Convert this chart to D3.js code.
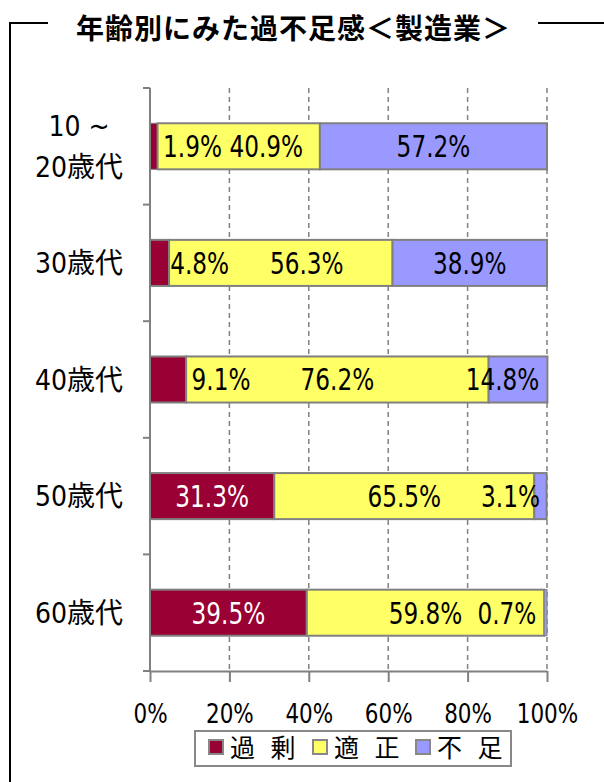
<!DOCTYPE html>
<html>
<head>
<meta charset="utf-8">
<title>年齢別にみた過不足感</title>
<script src="https://cdnjs.cloudflare.com/ajax/libs/d3/7.8.5/d3.min.js"></script>
<style>
  html, body { margin: 0; padding: 0; background: #fff; }
  svg { display: block; }
  .num { font-family: "DejaVu Sans Condensed", "Noto Sans CJK JP", sans-serif; }
</style>
</head>
<body>
<div id="chart"></div>
<script>
// data
const ages = ["10～20歳代", "30歳代", "40歳代", "50歳代", "60歳代"];
const ageLines = [["10 ~", "20歳代"], ["30歳代"], ["40歳代"], ["50歳代"], ["60歳代"]];
const seriesNames = ["過 剰", "適 正", "不 足"];
const kajo = [1.9, 4.8, 9.1, 31.3, 39.5];
const tekisei = [40.9, 56.3, 76.2, 65.5, 59.8];
const fusoku = [57.2, 38.9, 14.8, 3.1, 0.7];
const xTicks = [0, 20, 40, 60, 80, 100];
// where the label was dragged by hand (in % units), null = centred
const labelAt = [
  [10.7, 29.3, null],
  [12.5, 39.5, null],
  [17.9, null, 88.8],
  [null, null, 90.8],
  [null, null, 89.9]
];

const colors = ["#990033", "#ffff66", "#9999ff"];

const width = 604, height = 782;
const svg = d3.select("#chart").append("svg")
  .attr("width", width).attr("height", height);

const x = d3.scaleLinear().domain([0, 100]).range([150, 547]);
const y = d3.scaleBand().domain(ages).range([88, 671])
  .paddingInner(0.605).paddingOuter(0.3025);

// frame + title
svg.append("path")
  .attr("d", "M48,23H10V782M538,23H604")
  .attr("fill", "none").attr("stroke", "#000").attr("stroke-width", 2);
svg.append("text")
  .attr("x", 76).attr("y", 39)
  .attr("font-family", "'Noto Sans CJK JP', sans-serif")
  .attr("font-weight", "bold").attr("font-size", 28)
  .attr("textLength", 434).attr("lengthAdjust", "spacing")
  .text("年齢別にみた過不足感＜製造業＞");

// grid lines
svg.append("g").selectAll("line")
  .data(xTicks.slice(1))
  .join("line")
  .attr("x1", d => x(d)).attr("x2", d => x(d))
  .attr("y1", 88).attr("y2", 671)
  .attr("stroke", "#808080").attr("stroke-width", 1.5)
  .attr("stroke-dasharray", "5,4");

// stacked bars
const stack = ages.map((a, i) => {
  const vals = [kajo[i], tekisei[i], fusoku[i]];
  let acc = 0;
  return vals.map((v, j) => {
    const seg = { age: a, row: i, s: j, v: v, x0: acc, x1: acc + v };
    acc += v;
    return seg;
  });
}).flat();

svg.append("g").selectAll("rect")
  .data(stack)
  .join("rect")
  .attr("x", d => x(d.x0))
  .attr("y", d => y(d.age))
  .attr("width", d => x(d.x1) - x(d.x0))
  .attr("height", y.bandwidth())
  .attr("fill", d => colors[d.s])
  .attr("stroke", "#808080").attr("stroke-width", d => d.v < 2 ? 1 : 2);

svg.append("g").selectAll("text")
  .data(stack)
  .join("text")
  .attr("class", "num")
  .attr("transform", d => {
    const p = labelAt[d.row][d.s];
    const cx = x(p == null ? (d.x0 + d.x1) / 2 : p);
    const cy = y(d.age) + y.bandwidth() / 2;
    return `translate(${cx},${cy}) scale(0.86,1)`;
  })
  .attr("dy", "0.36em")
  .attr("text-anchor", "middle")
  .attr("font-size", 30)
  .attr("fill", d => (d.s === 0 && labelAt[d.row][0] == null) ? "#fff" : "#000")
  .text(d => d.v.toFixed(1) + "%");

// y axis with ticks at band edges
const edges = d3.range(ages.length + 1).map(i => y.range()[0] + i * y.step());
const yAxis = svg.append("g");
yAxis.append("line")
  .attr("x1", 150).attr("x2", 150).attr("y1", 88).attr("y2", 671)
  .attr("stroke", "#808080").attr("stroke-width", 2);
yAxis.selectAll(".tk").data(edges).join("line")
  .attr("x1", 143).attr("x2", 150)
  .attr("y1", d => d).attr("y2", d => d)
  .attr("stroke", "#808080").attr("stroke-width", 2);

const cat = svg.append("g").selectAll("text")
  .data(ages)
  .join("text")
  .attr("class", "num")
  .attr("font-size", 28)
  .attr("text-anchor", "middle")
  .attr("fill", "#000");
cat.each(function(d, i) {
  const lines = ageLines[i];
  const cy = y(d) + y.bandwidth() / 2;
  const lh = 41;
  d3.select(this).selectAll("tspan").data(lines).join("tspan")
    .attr("x", 79)
    .attr("y", (l, k) => cy + (k - (lines.length - 1) / 2) * lh)
    .attr("dy", "0.36em")
    .text(l => l);
});

// x axis
const xAxis = svg.append("g")
  .attr("transform", "translate(0,671)")
  .call(d3.axisBottom(x).tickValues(xTicks).tickSize(11).tickSizeOuter(0)
    .tickPadding(23).tickFormat(d => d + "%"));
xAxis.select(".domain").attr("stroke", "#808080").attr("stroke-width", 2);
xAxis.selectAll(".tick line").attr("stroke", "#808080").attr("stroke-width", 2);
xAxis.selectAll(".tick text")
  .attr("class", "num")
  .attr("font-family", null)
  .attr("font-size", 26).attr("fill", "#000")
  .attr("transform", "scale(0.92,1)");

// legend
const lg = svg.append("g");
lg.append("rect")
  .attr("x", 195).attr("y", 731).attr("width", 316).attr("height", 35)
  .attr("fill", "#fff").attr("stroke", "#888").attr("stroke-width", 2);
const itemX = [209, 313, 416];
seriesNames.forEach((n, i) => {
  lg.append("rect")
    .attr("x", itemX[i]).attr("y", 740).attr("width", 14).attr("height", 14)
    .attr("fill", colors[i]).attr("stroke", "#888").attr("stroke-width", 2);
  lg.append("text")
    .attr("x", itemX[i] + 21).attr("y", 748)
    .attr("dy", "0.36em")
    .attr("font-family", "'Noto Sans CJK JP', sans-serif")
    .attr("font-size", 25)
    .attr("word-spacing", 10)
    .attr("fill", "#000")
    .text(n);
});
</script>
</body>
</html>
